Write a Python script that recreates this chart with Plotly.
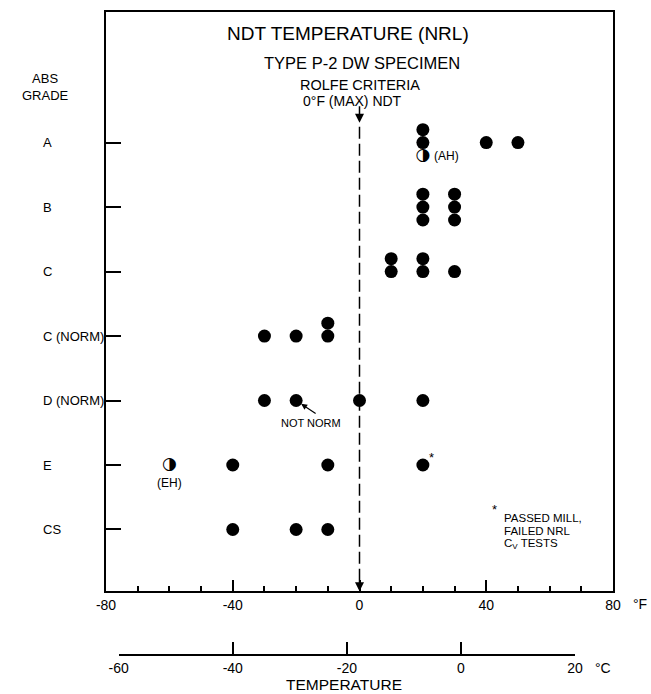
import plotly.graph_objects as go

# ---------------- data ----------------
grades = ["A", "B", "C", "C (NORM)", "D (NORM)", "E", "CS"]
grade_pos = [7, 6, 5, 4, 3, 2, 1]

# solid dots: grade, NDT temperature (°F), stack index (duplicates stacked vertically)
pt_grade = ["A", "A", "A", "A",
            "B", "B", "B", "B", "B", "B",
            "C", "C", "C", "C", "C",
            "C (NORM)", "C (NORM)", "C (NORM)", "C (NORM)",
            "D (NORM)", "D (NORM)", "D (NORM)", "D (NORM)",
            "E", "E", "E",
            "CS", "CS", "CS"]
pt_temp = [20, 20, 40, 50,
           20, 20, 20, 30, 30, 30,
           10, 10, 20, 20, 30,
           -30, -20, -10, -10,
           -30, -20, 0, 20,
           -40, -10, 20,
           -40, -20, -10]
pt_stack = [1, 0, 0, 0,
            1, 0, -1, 1, 0, -1,
            1, 0, 1, 0, 0,
            0, 0, 0, 1,
            0, 0, 0, 0,
            0, 0, 0,
            0, 0, 0]

# half-filled dots
half_grade = ["A", "E"]
half_temp = [20, -60]
half_stack = [-1, 0]
half_label = ["(AH)", "(EH)"]

f_ticks = [-80, -40, 0, 40, 80]
c_ticks = [-60, -40, -20, 0, 20]
rolfe_ndt = 0
footnote = ["PASSED MILL,", "FAILED NRL", "C<sub>V</sub> TESTS"]

# ---------------- layout helpers ----------------
W, H = 651, 694
ML, MR, MT, MB = 106, 38, 10, 10
PW, PH = W - ML - MR, H - MT - MB
STEP = 0.2
ROW_PX = 64.67


def px_x(px):
    return (px - ML) / PW


def px_y(py):
    return (H - MB - py) / PH


def yd(py):
    return 7 + (141 - py) / ROW_PX


gmap = dict(zip(grades, grade_pos))
f_lo, f_hi = f_ticks[0], f_ticks[-1]


def c2f(c):
    return c * 9 / 5 + 32


fig = go.Figure()

# dashed Rolfe line
fig.add_trace(go.Scatter(x=[rolfe_ndt, rolfe_ndt], y=[yd(125), yd(582)], mode="lines",
                         line=dict(color="black", width=1.5, dash="12px,5px"),
                         hoverinfo="skip", showlegend=False))

fig.add_trace(go.Scatter(
    x=pt_temp,
    y=[gmap[g] + s * STEP for g, s in zip(pt_grade, pt_stack)],
    mode="markers", marker=dict(size=13, color="black"),
    hoverinfo="skip", showlegend=False))

fig.add_trace(go.Scatter(
    x=half_temp,
    y=[gmap[g] + s * STEP for g, s in zip(half_grade, half_stack)],
    mode="text", text=["◑"] * len(half_temp), textposition="middle center",
    textfont=dict(family="DejaVu Sans", size=17, color="black"),
    hoverinfo="skip", showlegend=False))

# invisible trace to bring the °C axis to life
fig.add_trace(go.Scatter(x=[c_ticks[0], c_ticks[-1]], y=[4, 4], xaxis="x2", yaxis="y",
                         mode="markers", marker=dict(opacity=0), hoverinfo="skip",
                         showlegend=False))

font = "Liberation Sans"
ydom0 = px_y(591)

fig.update_layout(
    width=W, height=H, margin=dict(l=ML, r=MR, t=MT, b=MB),
    paper_bgcolor="white", plot_bgcolor="rgba(0,0,0,0)",
    font=dict(family=font, color="black"),
    xaxis=dict(range=[f_lo, f_hi], domain=[0, 1], anchor="y",
               tickvals=f_ticks, ticktext=[str(v) for v in f_ticks],
               ticks="inside", ticklen=12, tickwidth=1.5, tickcolor="black",
               minor=dict(dtick=10, tick0=-80, ticks="inside", ticklen=6,
                          tickwidth=1.5, tickcolor="black"),
               showline=True, linecolor="black", linewidth=1.5, mirror=True,
               showgrid=False, zeroline=False, tickfont=dict(size=14)),
    xaxis2=dict(range=[c_ticks[0], c_ticks[-1]],
                domain=[(c2f(c_ticks[0]) - f_lo) / (f_hi - f_lo),
                        (c2f(c_ticks[-1]) - f_lo) / (f_hi - f_lo)],
                anchor="free", position=px_y(655), side="bottom",
                tickvals=c_ticks, ticktext=[str(v) for v in c_ticks],
                ticks="inside", ticklen=12, tickwidth=1.5,
                tickcolor="black", showline=True, linecolor="black", linewidth=1.5,
                showgrid=False, zeroline=False, tickfont=dict(size=14)),
    yaxis=dict(range=[yd(591), yd(10)], domain=[ydom0, 1],
               tickvals=grade_pos, showticklabels=False,
               ticks="inside", ticklen=15, tickwidth=1.5, tickcolor="black",
               showline=True, linecolor="black", linewidth=1.5, mirror=True,
               showgrid=False, zeroline=False),
)

ann = []


def txt(text, x, y, size, xanchor="center", align="center", yanchor="middle"):
    ann.append(dict(text=text, x=px_x(x), y=px_y(y), xref="paper", yref="paper",
                    showarrow=False, xanchor=xanchor, yanchor=yanchor, align=align,
                    font=dict(size=size, family=font, color="black")))


txt("NDT TEMPERATURE (NRL)", 348, 32, 19)
txt("TYPE P-2 DW SPECIMEN", 362, 61, 16.5)
txt("ROLFE CRITERIA", 360, 83, 14.5)
txt("0°F (MAX) NDT", 352, 99, 14)
txt("ABS<br>GRADE", 45, 85, 13)
for g, p in zip(grades, grade_pos):
    ann.append(dict(text=g, x=px_x(41), y=p, xref="paper", yref="y", showarrow=False,
                    xanchor="left", yanchor="middle",
                    font=dict(size=13, family=font, color="black")))
txt("°F", 640, 604, 14)
txt("°C", 603, 668, 14)
txt("TEMPERATURE", 344, 685, 15.5)
txt("*", 494, 509, 13)
for i, line in enumerate(footnote):
    txt(line, 502, 518 + 13 * i, 11.5, xanchor="left", align="left")
txt("NOT NORM", 311, 422, 11)

# arrows of Rolfe criterion
ann.append(dict(x=rolfe_ndt, y=yd(121), xref="x", yref="y", text="", showarrow=True,
                ax=0, ay=-18, arrowhead=2, arrowsize=1.2, arrowwidth=1.5,
                arrowcolor="black"))
ann.append(dict(x=rolfe_ndt, y=yd(591), xref="x", yref="y", text="", showarrow=True,
                ax=0, ay=-12, arrowhead=2, arrowsize=1.2, arrowwidth=1.5,
                arrowcolor="black"))

# half-dot labels
ann.append(dict(x=half_temp[0], y=gmap[half_grade[0]] + half_stack[0] * STEP,
                xref="x", yref="y", text=half_label[0], showarrow=False,
                xanchor="left", xshift=9, font=dict(size=12, family=font, color="black")))
ann.append(dict(x=half_temp[1], y=gmap[half_grade[1]] + half_stack[1] * STEP,
                xref="x", yref="y", text=half_label[1], showarrow=False,
                yshift=-18, font=dict(size=12, family=font, color="black")))

# NOT NORM pointer
ann.append(dict(x=-20, y=3, xref="x", yref="y", text="", showarrow=True,
                ax=21, ay=14, arrowhead=2, arrowsize=1, arrowwidth=1.2,
                arrowcolor="black", standoff=6))
# asterisk on E dot
ann.append(dict(x=20, y=2, xref="x", yref="y", text="*", showarrow=False,
                xshift=9, yshift=8, font=dict(size=13, family=font, color="black")))

fig.update_layout(annotations=ann)
fig.write_html("out.html")
